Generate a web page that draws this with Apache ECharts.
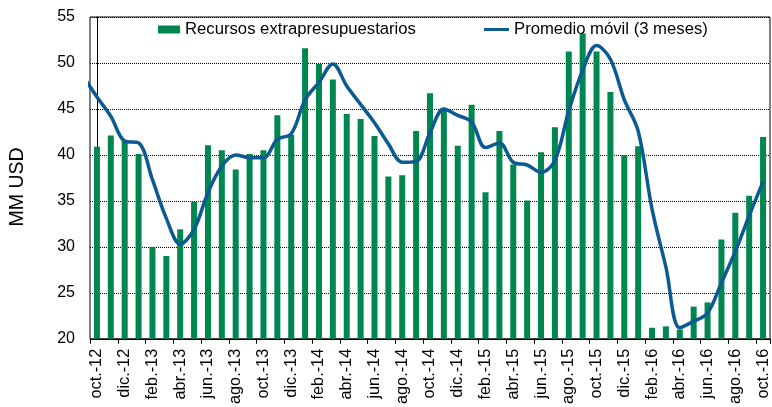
<!DOCTYPE html>
<html>
<head>
<meta charset="utf-8">
<script src="https://cdn.jsdelivr.net/npm/echarts@6/dist/echarts.min.js"></script>
<style>
  html, body { margin: 0; padding: 0; background: #fff; }
  #chart { width: 772px; height: 407px; }
</style>
</head>
<body>
<div id="chart"></div>
<script>
// meses oct-12 .. oct-16
var months = [
  'oct.-12', 'nov.-12', 'dic.-12', 'ene.-13', 'feb.-13', 'mar.-13', 'abr.-13', 'may.-13', 'jun.-13',
  'jul.-13', 'ago.-13', 'sep.-13', 'oct.-13', 'nov.-13', 'dic.-13', 'ene.-14', 'feb.-14', 'mar.-14',
  'abr.-14', 'may.-14', 'jun.-14', 'jul.-14', 'ago.-14', 'sep.-14', 'oct.-14', 'nov.-14', 'dic.-14',
  'ene.-15', 'feb.-15', 'mar.-15', 'abr.-15', 'may.-15', 'jun.-15', 'jul.-15', 'ago.-15', 'sep.-15',
  'oct.-15', 'nov.-15', 'dic.-15', 'ene.-16', 'feb.-16', 'mar.-16', 'abr.-16', 'may.-16', 'jun.-16',
  'jul.-16', 'ago.-16', 'sep.-16', 'oct.-16'
]

var recursos = [
  40.9, 42.1, 41.5, 40.1, 30.0, 29.0, 31.9, 34.9, 41.05,
  40.5, 38.4, 40.1, 40.5, 44.3, 42.2, 51.6, 49.9, 48.2,
  44.45, 43.9, 42.05, 37.65, 37.8, 42.6, 46.7, 45.0, 41.0,
  45.45, 35.95, 42.6, 38.95, 35.05, 40.3, 43.0, 51.25, 53.2,
  51.25, 46.85, 40.0, 40.95, 21.2, 21.35, 21.0, 23.5, 23.95,
  30.8, 33.7, 35.55, 41.95
]

// promedio movil: el mes anterior (sep-12) queda fuera del eje, se recorta
var promedioPrev = 48.6
var promedio = [
  46.3, 44.2, 41.5, 41.3, 37.3, 33.1, 30.3, 31.9, 35.9,
  38.8, 40.0, 39.7, 39.7, 41.7, 42.3, 46.0, 47.9, 49.9,
  47.5, 45.5, 43.5, 41.2, 39.2, 39.3, 42.4, 45.0, 44.3,
  43.6, 40.8, 41.3, 39.2, 38.9, 38.1, 39.4, 44.8, 49.2,
  51.9, 50.4, 46.0, 42.6, 34.1, 27.8, 21.2, 21.9, 22.8,
  26.1, 29.5, 33.4, 37.1
]

var yTicks = { min: 20, max: 55, step: 5 }

var linePoints = [[-1, promedioPrev]]
promedio.forEach(function (v, i) { linePoints.push([i, v]) })

var myChart = echarts.init(document.getElementById('chart'))
var option = {
  animation: false,
  textStyle: { fontFamily: 'Liberation Sans, Arial, sans-serif', color: '#000' },
  grid: {
    left: 87, right: 2, top: 17, bottom: 68,
    show: true, borderColor: '#000', borderWidth: 1
  },
  legend: [
    {
      data: ['Recursos extrapresupuestarios'],
      left: 158, top: 21, padding: 0,
      itemWidth: 22, itemHeight: 8,
      icon: 'rect',
      textStyle: { fontSize: 16.7, color: '#000' }
    },
    {
      data: ['Promedio móvil (3 meses)'],
      left: 484, top: 21, padding: 0,
      itemWidth: 25, itemHeight: 3,
      icon: 'rect',
      textStyle: { fontSize: 16.7, color: '#000' }
    }
  ],
  xAxis: [
    {
      type: 'category',
      data: months,
      boundaryGap: true,
      axisLine: { lineStyle: { color: '#000', width: 1 } },
      axisTick: { show: true, interval: 1, length: 5, lineStyle: { color: '#000' } },
      axisLabel: { interval: 1, rotate: 90, fontSize: 16.3, color: '#000', margin: 10 },
      splitLine: { show: false }
    },
    {
      type: 'value',
      min: -0.5,
      max: months.length - 0.5,
      show: false
    }
  ],
  yAxis: {
    type: 'value',
    min: yTicks.min,
    max: yTicks.max,
    interval: yTicks.step,
    name: 'MM USD',
    nameLocation: 'middle',
    nameGap: 62,
    nameTextStyle: { fontSize: 19.5, color: '#000', padding: [0, 18, 0, 0] },
    axisLine: { show: true, lineStyle: { color: '#000' } },
    axisTick: { show: false },
    axisLabel: { fontSize: 16, color: '#000', margin: 15 },
    splitLine: { show: true, lineStyle: { color: '#000', type: [1, 1], width: 1 } }
  },
  series: [
    {
      name: 'Recursos extrapresupuestarios',
      type: 'bar',
      xAxisIndex: 0,
      data: recursos,
      barWidth: 6,
      itemStyle: { color: '#00864f' }
    },
    {
      name: 'Promedio móvil (3 meses)',
      type: 'line',
      xAxisIndex: 1,
      data: linePoints,
      smooth: 0.35,
      symbol: 'none',
      clip: true,
      itemStyle: { color: '#0b5a92' },
      lineStyle: { color: '#0b5a92', width: 3.5 }
    }
  ]
}
myChart.setOption(option)
</script>
</body>
</html>
